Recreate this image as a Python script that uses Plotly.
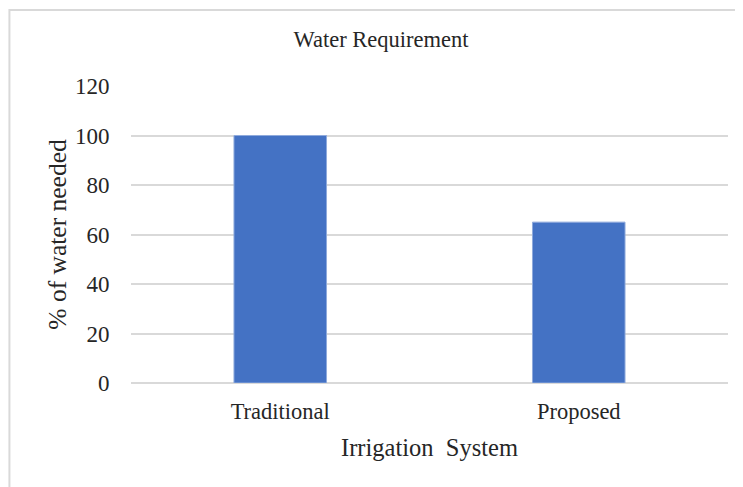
import plotly.graph_objects as go

categories = ["Traditional", "Proposed"]
water_needed = [100, 65]
y_ticks = [0, 20, 40, 60, 80, 100, 120]

FONT = "Liberation Serif, Times New Roman, serif"
TXT = "#262626"

# the page body adds an 8 px margin, so the figure is sized/offset to compensate
W, H = 735, 479
OFF = 8

fig = go.Figure()
fig.add_trace(go.Bar(
    x=categories,
    y=water_needed,
    marker=dict(color="#4472C4", line=dict(color="#8FAADC", width=1)),
    width=0.31,
))

fig.update_layout(
    width=W,
    height=H,
    margin=dict(l=131 - OFF, r=15, t=86 - OFF, b=104),
    paper_bgcolor="white",
    plot_bgcolor="white",
    showlegend=False,
    font=dict(family=FONT, color=TXT, size=22),
    title=dict(
        text="Water Requirement",
        x=(381 - OFF) / W, xref="container", xanchor="center",
        y=1 - (39 - OFF) / H, yref="container", yanchor="middle",
        font=dict(family=FONT, size=22.5, color=TXT),
    ),
    xaxis=dict(
        showgrid=False,
        showline=False,
        zeroline=False,
        ticks="outside", ticklen=8, tickcolor="rgba(0,0,0,0)",
        tickfont=dict(family=FONT, size=22.5, color=TXT),
        title=dict(text="Irrigation  System", standoff=15,
                   font=dict(family=FONT, size=24.5, color=TXT)),
    ),
    yaxis=dict(
        range=[0, 120],
        tickvals=y_ticks,
        showgrid=True, gridcolor="#d9d9d9", gridwidth=1.5,
        zeroline=True, zerolinecolor="#d9d9d9", zerolinewidth=1.5,
        showline=False,
        ticks="outside", ticklen=16, tickcolor="rgba(0,0,0,0)",
        tickfont=dict(family=FONT, size=23, color=TXT),
        title=dict(text="% of water needed", standoff=0,
                   font=dict(family=FONT, size=25.5, color=TXT)),
    ),
)

# chart-area border (light gray), extending past the right and bottom edges
fig.add_shape(
    type="rect", xref="paper", yref="paper",
    x0=(9 - 130.7) / 597.6, x1=(760 - 130.7) / 597.6,
    y0=(382.7 - 510) / 296.7, y1=(382.7 - 10) / 296.7,
    line=dict(color="#d9d9d9", width=2),
    fillcolor="rgba(0,0,0,0)",
    layer="below",
)

fig.write_html("out.html")
